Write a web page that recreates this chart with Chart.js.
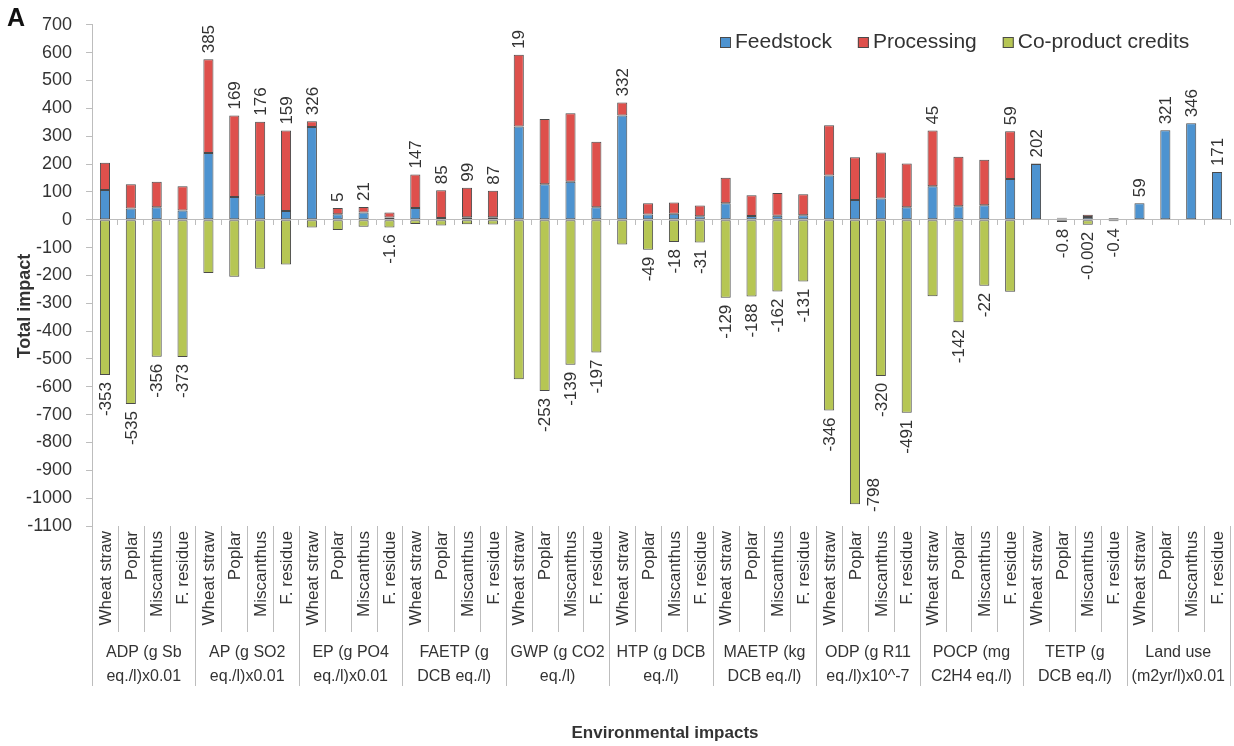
<!DOCTYPE html>
<html>
<head>
<meta charset="utf-8">
<title>Environmental impacts</title>
<script src="https://cdn.jsdelivr.net/npm/chart.js@4/dist/chart.umd.min.js"></script>
<style>
    html, body { margin: 0; padding: 0; background: #fff; }
    #wrap { position: relative; width: 1234px; height: 746px; }
</style>
</head>
<body>
<div id="wrap"><canvas id="impactChart"></canvas></div>
<script>
// Feedstocks repeated inside every impact category
const feedstocks = ['Wheat straw', 'Poplar', 'Miscanthus', 'F. residue'];

// Impact categories (two-line labels under the bars)
const impactGroups = [
    ['ADP (g Sb', 'eq./l)x0.01'],
    ['AP (g SO2', 'eq./l)x0.01'],
    ['EP (g PO4', 'eq./l)x0.01'],
    ['FAETP (g', 'DCB eq./l)'],
    ['GWP (g CO2', 'eq./l)'],
    ['HTP (g DCB', 'eq./l)'],
    ['MAETP (kg', 'DCB eq./l)'],
    ['ODP (g R11', 'eq./l)x10^-7'],
    ['POCP (mg', 'C2H4 eq./l)'],
    ['TETP (g', 'DCB eq./l)'],
    ['Land use', '(m2yr/l)x0.01']
];

// Feedstock contribution, one value per bar (group order, then feedstock order)
const feedstockValues = [
    107, 40, 45, 33,
    240, 82, 88, 31,
    333, 20, 26, 8,
    42, 6, 9, 9,
    335, 127, 136, 45,
    374, 19, 21, 12,
    59, 13, 14, 16,
    159, 71, 76, 45,
    120, 48, 52, 146,
    200, 4, 10, 3,
    59, 321, 346, 171
];

// Processing contribution
const processingValues = [
    98, 87, 91, 87,
    336, 292, 264, 289,
    21, 22, 20, 18,
    120, 100, 106, 95,
    257, 235, 246, 235,
    47, 40, 41, 39,
    92, 75, 82, 75,
    180, 153, 165, 157,
    200, 178, 163, 172,
    2, 3, 8, 2,
    0, 0, 0, 0
];

// Co-product credits (negative)
const creditValues = [
    -558, -662, -492, -493,
    -191, -205, -176, -161,
    -28, -37, -25, -27.6,
    -15, -21, -16, -17,
    -573, -615, -521, -477,
    -89, -108, -80, -82,
    -280, -276, -258, -222,
    -685, -1022, -561, -693,
    -275, -368, -237, -259,
    0, -7.8, -18.002, -5.4,
    0, 0, 0, 0
];

// Net impact printed next to each bar
const netLabels = [
    '-353', '-535', '-356', '-373',
    '385', '169', '176', '159',
    '326', '5', '21', '-1.6',
    '147', '85', '99', '87',
    '19', '-253', '-139', '-197',
    '332', '-49', '-18', '-31',
    '-129', '-188', '-162', '-131',
    '-346', '-798', '-320', '-491',
    '45', '-142', '-22', '59',
    '202', '-0.8', '-0.002', '-0.4',
    '59', '321', '346', '171'
];

const yTicks = { min: -1100, max: 700, step: 100 };

const FONT = "'Liberation Sans', Arial, sans-serif";
const TEXT = '#333333';
const AXIS = '#bdbdbd';
const EDGE = '#4a4a4a';

const labels = [];
impactGroups.forEach(() => feedstocks.forEach(f => labels.push(f)));

// Net value labels, rotated, above or below the stack
const netLabelPlugin = {
    id: 'netLabels',
    afterDatasetsDraw(chart) {
        const ctx = chart.ctx;
        const x = chart.scales.x;
        const y = chart.scales.y;
        const area = chart.chartArea;
        ctx.save();
        ctx.font = '17px ' + FONT;
        ctx.fillStyle = TEXT;
        ctx.textBaseline = 'middle';
        netLabels.forEach((txt, i) => {
            const pos = Math.max(feedstockValues[i], 0) + Math.max(processingValues[i], 0);
            const neg = Math.min(creditValues[i], 0);
            let px = x.getPixelForValue(i);
            ctx.save();
            if (parseFloat(txt) >= 0) {
                ctx.translate(px, y.getPixelForValue(pos) - 6);
                ctx.rotate(-Math.PI / 2);
                ctx.textAlign = 'left';
            } else {
                let py = y.getPixelForValue(neg) + 7;
                const w = ctx.measureText(txt).width;
                if (py + w > area.bottom) {
                    // no room under the bar: move it beside the bar
                    px += 18;
                    py = area.bottom - 14 - w;
                }
                ctx.translate(px, py);
                ctx.rotate(-Math.PI / 2);
                ctx.textAlign = 'right';
            }
            ctx.fillText(txt, 0, 1);
            ctx.restore();
        });
        ctx.restore();
    }
};

// Two-level category axis, legend, axis titles and panel letter
const axisTextPlugin = {
    id: 'axisText',
    afterDraw(chart) {
        const ctx = chart.ctx;
        const x = chart.scales.x;
        const area = chart.chartArea;
        const slot = (area.right - area.left) / labels.length;
        const top = area.bottom;
        ctx.save();

        // separators
        ctx.strokeStyle = AXIS;
        ctx.lineWidth = 1;
        for (let i = 0; i <= labels.length; i++) {
            const lx = Math.round(area.left + i * slot) + 0.5;
            const isGroup = i % feedstocks.length === 0;
            ctx.beginPath();
            ctx.moveTo(lx, top);
            ctx.lineTo(lx, isGroup ? top + 160 : top + 106);
            ctx.stroke();
        }

        // feedstock names
        ctx.fillStyle = TEXT;
        ctx.font = '17px ' + FONT;
        ctx.textAlign = 'right';
        ctx.textBaseline = 'middle';
        labels.forEach((name, i) => {
            ctx.save();
            ctx.translate(x.getPixelForValue(i), top + 5);
            ctx.rotate(-Math.PI / 2);
            ctx.fillText(name, 0, 1);
            ctx.restore();
        });

        // impact category names
        ctx.font = '16px ' + FONT;
        ctx.textAlign = 'center';
        impactGroups.forEach((lines, g) => {
            const cx = area.left + (g + 0.5) * feedstocks.length * slot;
            lines.forEach((ln, k) => ctx.fillText(ln, cx, top + 127 + k * 24));
        });

        // legend
        ctx.font = '21px ' + FONT;
        ctx.textAlign = 'left';
        let lx = 720;
        chart.data.datasets.forEach(ds => {
            ctx.fillStyle = ds.backgroundColor;
            ctx.fillRect(lx, 37, 11, 11);
            ctx.strokeStyle = EDGE;
            ctx.strokeRect(lx + 0.5, 37.5, 10, 10);
            ctx.fillStyle = TEXT;
            ctx.fillText(ds.label, lx + 15, 42);
            lx += 15 + ctx.measureText(ds.label).width + 26;
        });

        // axis titles
        ctx.textAlign = 'center';
        ctx.font = 'bold 17px ' + FONT;
        ctx.fillText('Environmental impacts', 665, 733);
        ctx.save();
        ctx.translate(25, 306);
        ctx.rotate(-Math.PI / 2);
        ctx.font = 'bold 18px ' + FONT;
        ctx.fillText('Total impact', 0, 0);
        ctx.restore();

        ctx.font = 'bold 25px ' + FONT;
        ctx.textAlign = 'left';
        ctx.fillStyle = '#111';
        ctx.fillText('A', 7, 19);
        ctx.restore();
    }
};

const ctx = document.getElementById('impactChart').getContext('2d');
new Chart(ctx, {
    type: 'bar',
    data: {
        labels: labels,
        datasets: [
            {
                label: 'Feedstock',
                data: feedstockValues,
                backgroundColor: '#4d93d0',
                borderColor: EDGE,
                borderWidth: 1
            },
            {
                label: 'Processing',
                data: processingValues,
                backgroundColor: '#de504c',
                borderColor: EDGE,
                borderWidth: 1
            },
            {
                label: 'Co-product credits',
                data: creditValues,
                backgroundColor: '#b6c654',
                borderColor: EDGE,
                borderWidth: 1
            }
        ]
    },
    options: {
        responsive: true,
        maintainAspectRatio: false,
        animation: false,
        layout: { padding: { left: 12, right: 4, top: 5, bottom: 220 } },
        datasets: {
            bar: { categoryPercentage: 1, barPercentage: 0.39, borderSkipped: false }
        },
        plugins: {
            legend: { display: false },
            tooltip: { enabled: false }
        },
        scales: {
            x: {
                stacked: true,
                position: { y: 0 },
                ticks: { display: false },
                grid: {
                    offset: true,
                    drawOnChartArea: false,
                    tickLength: 5,
                    color: AXIS
                },
                border: { color: AXIS }
            },
            y: {
                stacked: true,
                min: yTicks.min,
                max: yTicks.max,
                ticks: {
                    stepSize: yTicks.step,
                    padding: 14,
                    color: TEXT,
                    font: { family: FONT, size: 18 },
                    callback: v => String(v)
                },
                grid: {
                    drawOnChartArea: false,
                    tickLength: 6,
                    color: AXIS
                },
                border: { color: AXIS }
            }
        }
    },
    plugins: [netLabelPlugin, axisTextPlugin]
});
</script>
</body>
</html>
